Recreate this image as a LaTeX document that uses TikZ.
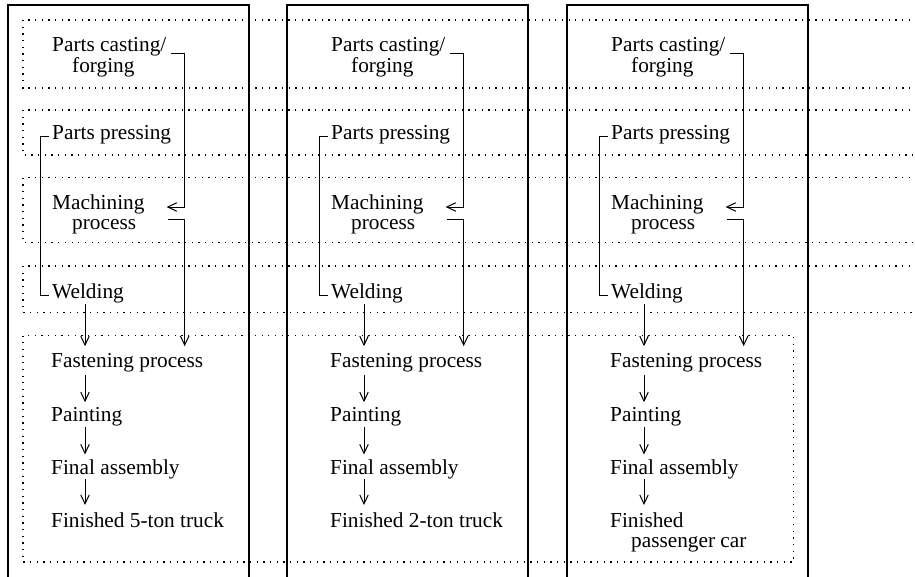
\documentclass[tikz,border=0pt]{standalone}
\usepackage{fontspec}
\setmainfont{Liberation Serif}
\usetikzlibrary{arrows.meta,calc}
\tikzset{
  lbl/.style={inner sep=0pt, font=\fontsize{21.3pt}{20.5pt}\selectfont, align=left},
  frame/.style={line width=1.4pt},
  band/.style={line width=1.3pt, dash pattern=on 1.3pt off 5.37pt},
  conn/.style={line width=1pt},
  arr/.style={conn, -{Straight Barb[length=9pt,width=8.5pt,line width=1pt]}},
}
\newcommand\procol[3]{%
\begin{scope}[xshift=#2pt]
  \draw[frame] (8,600) -- (8,5) -- (249,5) -- (249,600);
  \node[lbl, anchor=north west] (cast#1) at (52,37.5) {Parts casting/\\\hspace*{20pt}forging};
  \node[lbl, anchor=base west] (press#1) at (52,139) {Parts pressing};
  \node[lbl, anchor=north west] (mach#1) at (52,194.5) {Machining\\\hspace*{20pt}process};
  \node[lbl, anchor=base west] (weld#1) at (52,298) {Welding};
  \node[lbl, anchor=base west] (fast#1) at (51,367) {Fastening process};
  \node[lbl, anchor=base west] (paint#1) at (51,421) {Painting};
  \node[lbl, anchor=base west] (final#1) at (51,474) {Final assembly};
  \node[lbl, anchor=north west] (fin#1) at (51,512.5) {#3};
  % casting -> machining
  \draw[arr] ([xshift=4pt,yshift=-15.5pt]cast#1.north east) -- ++(14,0)
     |- ([xshift=22pt,yshift=-12.5pt]mach#1.north east);
  % machining -> fastening
  \draw[arr, shorten >=6.5pt] ([xshift=23pt,yshift=-24.5pt]mach#1.north east) -- ++(17,0)
     coordinate (mk#1) -- (mk#1 |- fast#1.north);
  % pressing -> welding
  \draw[conn] ([xshift=-3pt]press#1.mid west) -- ++(-9,0) |- ([xshift=-3pt]weld#1.mid west);
  % vertical chain
  \draw[arr] ([xshift=33pt,yshift=-1.4pt]weld#1.south west) -- ([xshift=34pt,yshift=6.5pt]fast#1.north west);
  \draw[arr] ([xshift=34pt,yshift=-3.4pt]fast#1.south west) -- ([xshift=34pt,yshift=4.5pt]paint#1.north west);
  \draw[arr] ([xshift=34pt,yshift=-1.4pt]paint#1.south west) -- ([xshift=34pt,yshift=4.5pt]final#1.north west);
  \draw[arr] ([xshift=34pt,yshift=0pt]final#1.south west) -- ([xshift=34pt,yshift=7.5pt]fin#1.north west);
\end{scope}}
\begin{document}
\begin{tikzpicture}[x=1pt,y=-1pt]
  \useasboundingbox (0,0) rectangle (915,576);
  \clip (0,0) rectangle (915,576);
  \fill[white] (0,0) rectangle (915,576);
  % dotted bands
  \draw[band] (930,20) -- (23,20) -- (23,88) -- (930,88);
  \draw[band] (930,110) -- (23,110) -- (23,155) -- (930,155);
  \draw[band] (930,177.5) -- (23,177.5) -- (23,242.5) -- (930,242.5);
  \draw[band] (930,266) -- (23,266) -- (23,312.5) -- (930,312.5);
  \draw[band] (23,335.5) rectangle (793.5,562);
  % columns
  \procol{a}{0}{Finished 5-ton truck}
  \procol{b}{279}{Finished 2-ton truck}
  \procol{c}{559}{Finished\\\hspace*{21pt}passenger car}
\end{tikzpicture}
\end{document}
